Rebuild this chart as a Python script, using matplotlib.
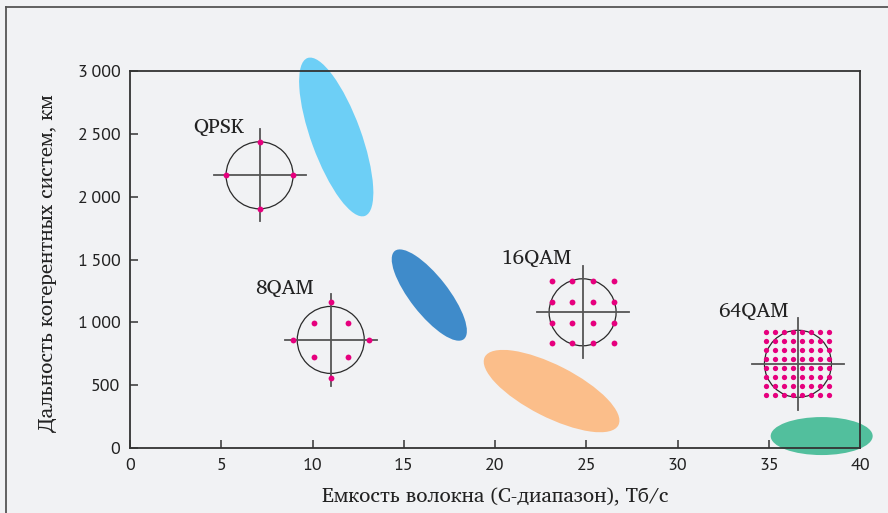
import numpy as np
import matplotlib
matplotlib.use('Agg')
import matplotlib.pyplot as plt
from matplotlib.patches import Ellipse, Circle
from matplotlib.lines import Line2D
from matplotlib.transforms import ScaledTranslation

# axis data
x_ticks = [0, 5, 10, 15, 20, 25, 30, 35, 40]
y_ticks = [0, 500, 1000, 1500, 2000, 2500, 3000]
y_tick_labels = ['0', '500', '1\u2009000', '1\u2009500', '2\u2009000', '2\u2009500', '3\u2009000']

# modulation formats (constellation centres, Tb/s and km)
schemes = ['QPSK', '8QAM', '16QAM', '64QAM']
scheme_x = [7.1, 11.0, 24.8, 36.6]
scheme_y = [2170, 860, 1080, 670]

# coloured regions (centres)
region_x = [11.3, 16.4, 23.1, 37.9]
region_y = [2475, 1217, 453, 95]
region_colors = ['#6dcff6', '#3f8bca', '#fbbe8a', '#52bf9d']
# width, height (px) and angle of each region
region_shape = [(168, 50, -70), (112, 38, -52), (150, 52, -27), (102, 38, 0)]

bg = '#f1f2f4'
magenta = '#e6007e'
sans = ['PT Sans', 'DejaVu Sans']
serif = ['Charis SIL', 'PT Serif', 'DejaVu Serif']

fig = plt.figure(figsize=(8.88, 5.13), dpi=100, facecolor=bg)
ax = fig.add_axes([130/888, 1-448/513, 730/888, 377/513])
ax.set_facecolor('none')
ax.set_xlim(0, 40)
ax.set_ylim(0, 3000)

def px(cx, cy):
    # offsets in pixels/100 (inches) around a data point
    return fig.dpi_scale_trans + ScaledTranslation(cx, cy, ax.transData)

for x, y, c, (w, h, a) in zip(region_x, region_y, region_colors, region_shape):
    e = Ellipse((0, 0), w/100, h/100, angle=a, facecolor=c, edgecolor='none',
                transform=px(x, y), clip_on=False, zorder=1)
    ax.add_patch(e)

def points(name):
    if name == 'QPSK':
        r = 33.5
        return [(r, 0), (0, r), (-r, 0), (0, -r)]
    if name == '8QAM':
        r = 38
        d = 17
        return [(r, 0), (0, r), (-r, 0), (0, -r), (d, d), (-d, d), (d, -d), (-d, -d)]
    if name == '16QAM':
        g = [-31, -10.3, 10.3, 31]
        return [(a, b) for a in g for b in g]
    g = np.arange(-31.5, 32, 9)
    return [(a, b) for a in g for b in g]

label_off = {'QPSK': (-66, 48), '8QAM': (-76, 51), '16QAM': (-81, 54), '64QAM': (-80, 52)}

for name, x, y in zip(schemes, scheme_x, scheme_y):
    t = px(x, y)
    ax.add_patch(Circle((0, 0), 0.335, facecolor='none', edgecolor='#2a2a2a',
                        lw=0.9, transform=t, zorder=3))
    ax.add_line(Line2D([-0.46, 0.46], [0, 0], color='#555555', lw=1.3, transform=t, zorder=3))
    ax.add_line(Line2D([0, 0], [-0.46, 0.46], color='#555555', lw=1.3, transform=t, zorder=3))
    p = np.array(points(name)) / 100
    ms = 4.2 if name != '64QAM' else 3.8
    ax.plot(p[:, 0], p[:, 1], 'o', ms=ms, color=magenta, mec='none', transform=t, zorder=4)
    dx, dy = label_off[name]
    ax.annotate(name, xy=(x, y), xytext=(dx*0.72, dy*0.72), textcoords='offset points',
                ha='left', va='center', fontsize=14.8, family=serif, color='#222222')

for s in ax.spines.values():
    s.set_color('#333333')
    s.set_linewidth(1.3)
    s.set_zorder(5)

ax.set_xticks(x_ticks)
ax.set_xticklabels([str(v) for v in x_ticks], family=sans, fontsize=13)
ax.set_yticks(y_ticks)
ax.set_yticklabels(y_tick_labels, family=sans, fontsize=13)
ax.tick_params(direction='in', length=6, width=1.1, color='#333333', pad=7, labelcolor='#222222')

ax.set_xlabel('Емкость волокна (С-диапазон), Тб/с', family=serif, fontsize=14.7, color='#222222')
ax.xaxis.set_label_coords(0.5, -0.105)
ax.set_ylabel('Дальность когерентных систем, км', family=serif, fontsize=14.8, color='#222222')
ax.yaxis.set_label_coords(-0.1, 0.49)

# outer frame
fig.add_artist(Line2D([6/888, 1], [1-7/513, 1-7/513], color='#555555', lw=1.3))
fig.add_artist(Line2D([6/888, 6/888], [0, 1-7/513], color='#555555', lw=1.3))

fig.savefig('out.png', dpi=100, facecolor=bg)
